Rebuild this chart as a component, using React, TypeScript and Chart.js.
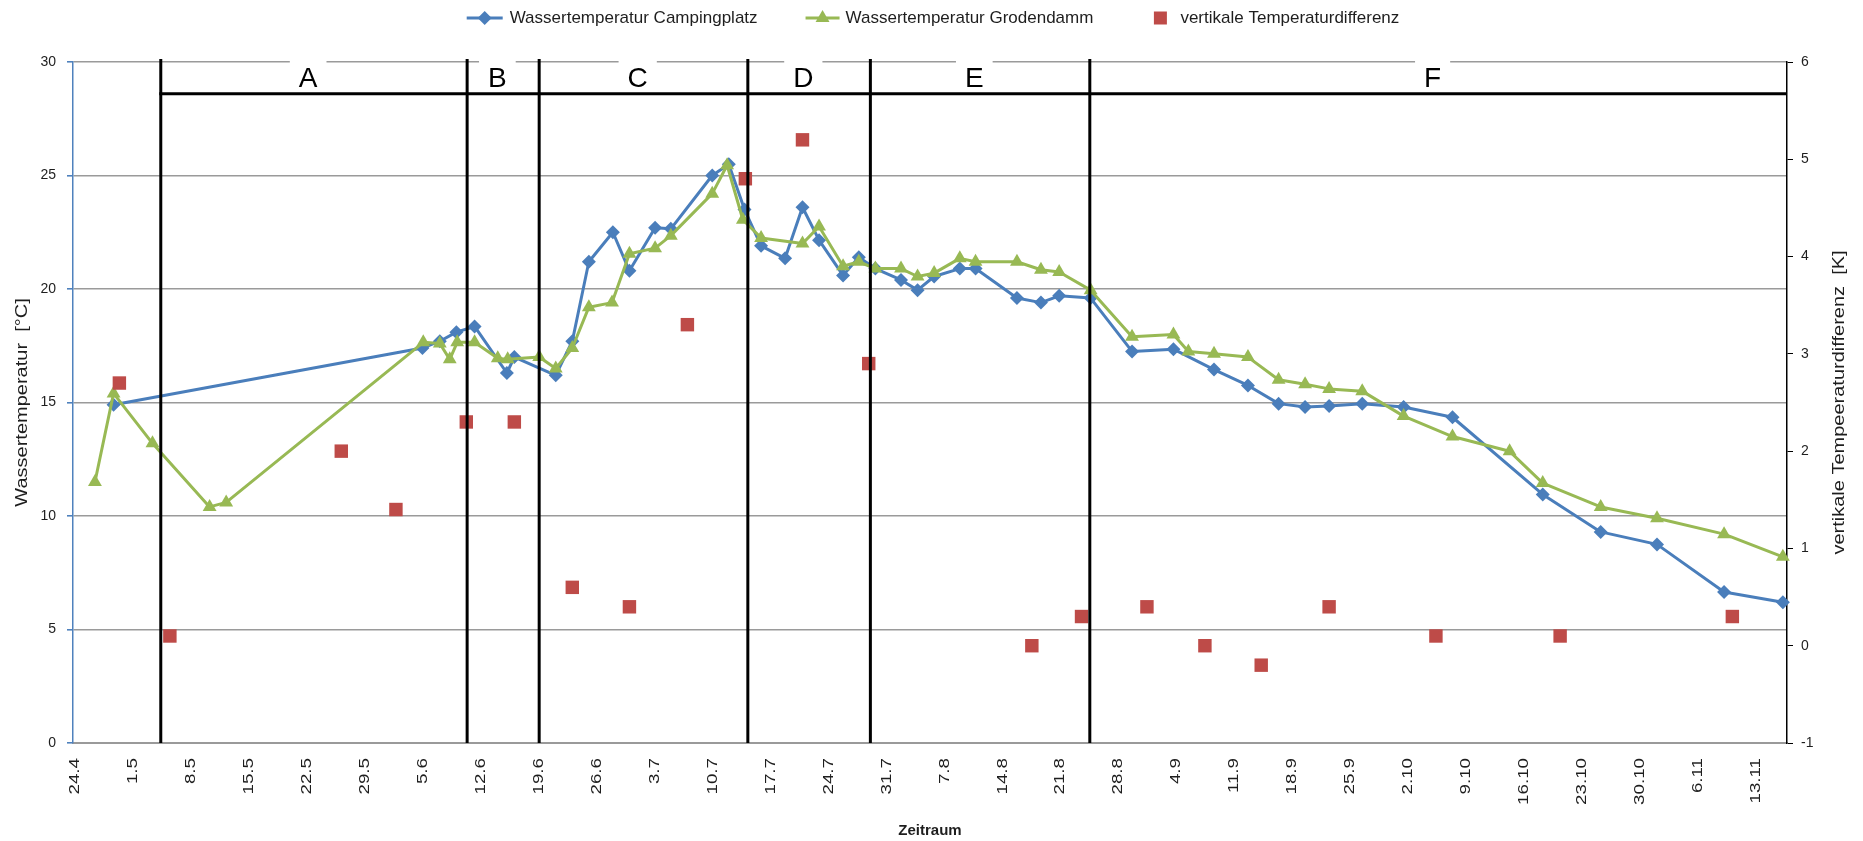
import { useEffect, useRef } from 'react';
import { Chart, registerables } from 'chart.js';

Chart.register(...registerables);

// ---------- data ----------
// x tick labels (weekly dates, day.month)
const xTickLabels = ['24.4', '1.5', '8.5', '15.5', '22.5', '29.5', '5.6', '12.6', '19.6', '26.6', '3.7', '10.7', '17.7', '24.7', '31.7', '7.8', '14.8', '21.8', '28.8', '4.9', '11.9', '18.9', '25.9', '2.10', '9.10', '16.10', '23.10', '30.10', '6.11', '13.11'];
const xStartLabel = '24.4';
const xMaxDay = 207; // axis end, days after 24.4

// days after 24.4
const campDays = [4.9, 42.2, 44.3, 46.3, 48.5, 52.4, 53.3, 58.3, 60.3, 62.3, 65.2, 67.2, 70.3, 72.2, 77.2, 79.2, 81.1, 83.1, 86.0, 88.1, 90.1, 93.0, 94.9, 96.9, 100.0, 102.0, 104.0, 107.1, 109.0, 114.0, 116.9, 119.1, 122.9, 127.9, 132.9, 137.8, 141.9, 145.6, 148.8, 151.7, 155.7, 160.7, 166.6, 177.5, 184.5, 191.3, 199.4, 206.5];
const campTemp = [14.9, 17.4, 17.7, 18.1, 18.35, 16.3, 17.0, 16.2, 17.7, 21.2, 22.5, 20.8, 22.7, 22.65, 25.0, 25.5, 23.5, 21.9, 21.35, 23.6, 22.15, 20.6, 21.4, 20.9, 20.4, 19.95, 20.55, 20.9, 20.9, 19.6, 19.4, 19.7, 19.6, 17.25, 17.35, 16.45, 15.75, 14.95, 14.8, 14.85, 14.95, 14.8, 14.35, 10.95, 9.3, 8.75, 6.65, 6.2];

const grodDays = [2.65, 4.9, 9.6, 16.5, 18.5, 42.3, 44.3, 45.5, 46.4, 48.5, 51.3, 52.5, 56.3, 58.3, 60.3, 62.3, 65.1, 67.2, 70.3, 72.2, 77.2, 79.0, 80.9, 83.1, 88.1, 90.1, 93.0, 94.9, 96.9, 100.0, 102.0, 104.0, 107.1, 109.0, 114.0, 116.9, 119.1, 122.9, 127.9, 132.9, 134.7, 137.8, 141.9, 145.6, 148.8, 151.7, 155.7, 160.7, 166.6, 173.5, 177.5, 184.5, 191.3, 199.4, 206.5];
const grodTemp = [11.5, 15.4, 13.2, 10.4, 10.6, 17.65, 17.6, 16.9, 17.65, 17.65, 16.95, 16.9, 17.0, 16.5, 17.4, 19.2, 19.4, 21.55, 21.8, 22.35, 24.2, 25.45, 23.05, 22.25, 22.0, 22.75, 21.0, 21.2, 20.9, 20.9, 20.55, 20.7, 21.35, 21.2, 21.2, 20.85, 20.75, 19.95, 17.9, 18.0, 17.25, 17.15, 17.0, 16.0, 15.8, 15.6, 15.5, 14.4, 13.5, 12.85, 11.45, 10.4, 9.9, 9.2, 8.2];

const diffDays = [5.6, 11.7, 32.4, 39.0, 47.5, 53.3, 60.3, 67.2, 74.2, 81.2, 88.1, 96.1, 115.8, 121.8, 129.7, 136.7, 143.5, 151.7, 164.6, 179.6, 200.4];
const diffValues = [2.7, 0.1, 2.0, 1.4, 2.3, 2.3, 0.6, 0.4, 3.3, 4.8, 5.2, 2.9, 0.0, 0.3, 0.4, 0.0, -0.2, 0.4, 0.1, 0.1, 0.3];

// phase boundaries (days after 24.4) and phase names
const phaseBounds = [10.6, 47.6, 56.3, 81.5, 96.3, 122.8];
const phaseNames = ['A', 'B', 'C', 'D', 'E', 'F'];
const phaseBarLevel = 28.6; // left-axis value of the horizontal phase bar

const seriesNames = ['Wassertemperatur Campingplatz', 'Wassertemperatur Grodendamm', 'vertikale Temperaturdifferenz'];
const leftTitle = 'Wassertemperatur  [°C]';
const rightTitle = 'vertikale Tempeeraturdifferenz  [K]';
const xTitle = 'Zeitraum';

// ---------- helpers ----------
const FONT = '"Liberation Sans", Arial, sans-serif';
const TEXT = '#1e1e1e';
const BLUE = '#4A7EBB';
const GREEN = '#98B954';
const RED = '#BE4B48';

function dayOf(label: string): number {
  const [d, m] = label.split('.').map(Number);
  const [d0, m0] = xStartLabel.split('.').map(Number);
  return Math.round((Date.UTC(2010, m - 1, d) - Date.UTC(2010, m0 - 1, d0)) / 86400000);
}

function pts(xs: number[], ys: number[]) {
  return xs.map((x, i) => ({ x, y: ys[i] }));
}

function drawRot(ctx: CanvasRenderingContext2D, text: string, x: number, y: number, font: string, sx: number, align: CanvasTextAlign) {
  ctx.save();
  ctx.translate(x, y);
  ctx.rotate(-Math.PI / 2);
  ctx.scale(sx, 1);
  ctx.font = font;
  ctx.textAlign = align;
  ctx.textBaseline = 'middle';
  ctx.fillText(text, 0, 0);
  ctx.restore();
}

function drawMarker(ctx: CanvasRenderingContext2D, style: string, x: number, y: number, r: number, color: string) {
  ctx.fillStyle = color;
  ctx.beginPath();
  if (style === 'diamond') {
    ctx.moveTo(x - r, y); ctx.lineTo(x, y - r); ctx.lineTo(x + r, y); ctx.lineTo(x, y + r);
  } else if (style === 'triangle') {
    ctx.moveTo(x, y - r); ctx.lineTo(x + r * 0.87, y + r * 0.5); ctx.lineTo(x - r * 0.87, y + r * 0.5);
  } else {
    ctx.rect(x - r, y - r, 2 * r, 2 * r);
  }
  ctx.closePath();
  ctx.fill();
}

const decorPlugin = {
  id: 'decor',
  afterDatasetsDraw(chart: any) {
    const { ctx, chartArea, scales } = chart;
    const x = scales.x;
    const y = scales.y;
    const barY = y.getPixelForValue(phaseBarLevel);
    const bounds = [...phaseBounds, xMaxDay];
    ctx.save();
    // letters with white background over top gridline
    ctx.font = `28px ${FONT}`;
    phaseNames.forEach((n, i) => {
      const cx = x.getPixelForValue((bounds[i] + bounds[i + 1]) / 2 - 0.7);
      const w = ctx.measureText(n).width;
      ctx.fillStyle = '#fff';
      ctx.fillRect(cx - w / 2 - 9, chartArea.top - 3, w + 18, 8);
      ctx.fillStyle = '#000';
      ctx.textAlign = 'center';
      ctx.textBaseline = 'middle';
      ctx.fillText(n, cx, (chartArea.top + barY) / 2 + 1);
    });
    ctx.strokeStyle = '#000';
    ctx.lineWidth = 3;
    phaseBounds.forEach((b) => {
      const px = x.getPixelForValue(b);
      ctx.beginPath();
      ctx.moveTo(px, chartArea.top - 3);
      ctx.lineTo(px, chartArea.bottom);
      ctx.stroke();
    });
    ctx.beginPath();
    ctx.moveTo(x.getPixelForValue(phaseBounds[0]) - 1.5, barY);
    ctx.lineTo(chartArea.right, barY);
    ctx.stroke();
    ctx.restore();
  },
  afterDraw(chart: any) {
    const { ctx, chartArea, scales } = chart;
    const x = scales.x;
    ctx.save();
    ctx.fillStyle = TEXT;
    // x tick labels, rotated
    xTickLabels.forEach((l) => {
      const px = x.getPixelForValue(dayOf(l));
      drawRot(ctx, l, px + 2, chartArea.bottom + 15, `15px ${FONT}`, 1.25, 'right');
    });
    const midY = (chartArea.top + chartArea.bottom) / 2;
    drawRot(ctx, leftTitle, 23, midY, `16px ${FONT}`, 1.25, 'center');
    drawRot(ctx, rightTitle, 1840, midY, `16px ${FONT}`, 1.25, 'center');
    ctx.font = `bold 15px ${FONT}`;
    ctx.textAlign = 'center';
    ctx.textBaseline = 'middle';
    ctx.fillText(xTitle, (chartArea.left + chartArea.right) / 2, 831);

    // legend
    ctx.font = `17px ${FONT}`;
    const w = seriesNames.map((s) => ctx.measureText(s).width);
    const total = 36 + 7 + w[0] + 48 + 34 + 6 + w[1] + 61 + 12 + 14 + w[2];
    let lx = (chartArea.left + chartArea.right) / 2 + 3 - total / 2;
    const ly = 18;
    ctx.textAlign = 'left';
    ctx.lineWidth = 3;
    // item 1
    ctx.strokeStyle = BLUE;
    ctx.beginPath(); ctx.moveTo(lx, ly); ctx.lineTo(lx + 36, ly); ctx.stroke();
    drawMarker(ctx, 'diamond', lx + 18, ly, 7, BLUE);
    lx += 43;
    ctx.fillStyle = TEXT; ctx.fillText(seriesNames[0], lx, ly);
    lx += w[0] + 48;
    // item 2
    ctx.strokeStyle = GREEN;
    ctx.beginPath(); ctx.moveTo(lx, ly); ctx.lineTo(lx + 34, ly); ctx.stroke();
    drawMarker(ctx, 'triangle', lx + 17, ly, 8, GREEN);
    lx += 40;
    ctx.fillStyle = TEXT; ctx.fillText(seriesNames[1], lx, ly);
    lx += w[1] + 61;
    // item 3
    drawMarker(ctx, 'square', lx + 6, ly, 6.5, RED);
    lx += 26;
    ctx.fillStyle = TEXT; ctx.fillText(seriesNames[2], lx, ly);
    ctx.restore();
  },
};

export default function App() {
  const ref = useRef<HTMLCanvasElement | null>(null);

  useEffect(() => {
    document.body.style.margin = '0';
    const canvas = ref.current!;
    const chart = new Chart(canvas, {
      type: 'line',
      data: {
        datasets: [
          {
            label: seriesNames[0],
            data: pts(campDays, campTemp),
            yAxisID: 'y',
            borderColor: BLUE,
            backgroundColor: BLUE,
            borderWidth: 3,
            pointStyle: 'rectRot',
            pointRadius: 7,
            pointBorderWidth: 0,
            tension: 0,
            clip: false,
            order: 3,
          },
          {
            label: seriesNames[1],
            data: pts(grodDays, grodTemp),
            yAxisID: 'y',
            borderColor: GREEN,
            backgroundColor: GREEN,
            borderWidth: 3,
            pointStyle: 'triangle',
            pointRadius: 8,
            pointBorderWidth: 0,
            tension: 0,
            clip: false,
            order: 2,
          },
          {
            label: seriesNames[2],
            data: pts(diffDays, diffValues),
            yAxisID: 'y1',
            showLine: false,
            borderColor: RED,
            backgroundColor: RED,
            pointStyle: 'rect',
            pointRadius: 9.5,
            pointBorderWidth: 0,
            clip: false,
            order: 1,
          },
        ],
      } as any,
      options: {
        animation: false,
        responsive: false,
        devicePixelRatio: 1,
        layout: { padding: { top: 62, left: 0, right: 0, bottom: 0 } },
        plugins: { legend: { display: false }, tooltip: { enabled: false } },
        elements: { line: { borderJoinStyle: 'round' } },
        scales: {
          x: {
            type: 'linear',
            min: 0,
            max: xMaxDay,
            afterBuildTicks: (s: any) => {
              s.ticks = xTickLabels.map((l) => ({ value: dayOf(l) }));
            },
            afterFit: (s: any) => { s.height = 98; },
            ticks: { display: false },
            grid: { display: false },
            border: { display: true, color: '#9a9a9a', width: 2 },
          },
          y: {
            position: 'left',
            min: 0,
            max: 30,
            afterFit: (s: any) => { s.width = 73; },
            ticks: { stepSize: 5, color: TEXT, font: { family: FONT, size: 14 }, padding: 11 },
            grid: { color: '#9a9a9a', lineWidth: 1.6, tickLength: 6, tickColor: '#4F81BD' },
            border: { display: true, color: '#4F81BD', width: 1.5 },
          },
          y1: {
            position: 'right',
            min: -1,
            max: 6,
            afterFit: (s: any) => { s.width = 76; },
            ticks: { stepSize: 1, color: TEXT, font: { family: FONT, size: 14 }, padding: 8 },
            grid: { drawOnChartArea: false, tickLength: 6, tickColor: '#000', color: '#000' },
            border: { display: true, color: '#000', width: 1.5 },
          },
        },
      } as any,
      plugins: [decorPlugin],
    });
    return () => chart.destroy();
  }, []);

  return (
    <div style={{ position: 'fixed', left: 0, top: 0, width: 1863, height: 841, background: '#fff' }}>
      <canvas ref={ref} width={1863} height={841} style={{ display: 'block', width: 1863, height: 841 }} />
    </div>
  );
}
